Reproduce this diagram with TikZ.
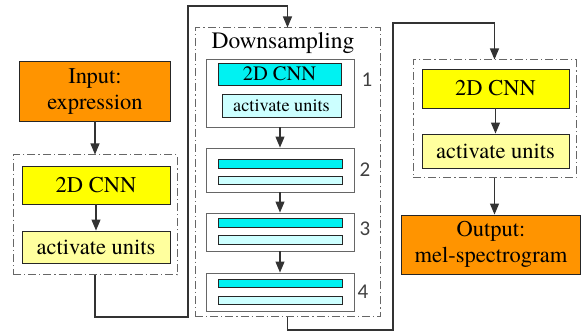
\documentclass[tikz,border=0pt]{standalone}
\usepackage{fontspec}
\setmainfont{TeX Gyre Termes}
\newfontfamily\boxfont{TeX Gyre Termes}
\newfontfamily\numfont{Carlito}
\usetikzlibrary{arrows.meta}
\definecolor{inorange}{HTML}{FF9400}
\definecolor{cnnyellow}{HTML}{FFFF00}
\definecolor{actyellow}{HTML}{FFFF9E}
\definecolor{cnncyan}{HTML}{00F2F2}
\definecolor{actcyan}{HTML}{CCFFFF}
\tikzset{
  base/.style={draw=black!85, line width=0.9pt, inner sep=0pt, font=\boxfont\fontsize{22.5}{26}\selectfont},
  iobox/.style={base, fill=inorange, align=center},
  cnnbox/.style={base, fill=cnnyellow},
  actbox/.style={base, fill=actyellow},
  group/.style={draw=black!60, line width=1pt, dash pattern=on 8pt off 3pt on 1.2pt off 3pt},
  stage/.style={draw=black!60, line width=0.9pt, fill=white, inner sep=0pt},
  bar/.style={draw=black!85, line width=0.8pt, inner sep=0pt},
  lbl/.style={font=\numfont\fontsize{21}{22}\selectfont, text=black!75},
  link/.style={draw=black!80, line width=1.1pt},
  arr/.style={link, -{Triangle[length=11pt,width=9pt]}}
}
\begin{document}
\begin{tikzpicture}[x=1pt, y=-1pt]
\useasboundingbox (0,0) rectangle (582,334);

% input and first convolution block
\node[iobox, minimum width=151pt, minimum height=60pt] (in) at (95,91) {Input:\\expression};
\node[group, minimum width=164pt, minimum height=120pt] (gl) at (95,215) {};
\node[cnnbox, minimum width=148pt, minimum height=38pt] (cl) at (96,185) {2D CNN};
\node[actbox, minimum width=148pt, minimum height=32pt] (al) at (96,247) {activate units};

% downsampling group
\node[group, minimum width=185pt, minimum height=289pt] (gd) at (287.5,172.5) {};
\node[font=\boxfont\fontsize{23.5}{26}\selectfont, inner sep=0pt] (dtitle) at (283,43) {Downsampling};

\node[stage, minimum width=148pt, minimum height=68pt] (s1) at (280,93) {};
\node[bar, fill=cnncyan, minimum width=123pt, minimum height=22pt, font=\boxfont\fontsize{20.5}{22}\selectfont] (s1c) at (279.5,74) {2D CNN};
\node[bar, fill=actcyan, minimum width=119pt, minimum height=23pt, font=\boxfont\fontsize{18.3}{20}\selectfont] (s1a) at (281.5,105.5) {activate units};
\node[lbl] (n1) at (367,80) {1};

\node[stage, minimum width=148pt, minimum height=44pt] (s2) at (280,170) {};
\node[bar, fill=cnncyan, minimum width=124pt, minimum height=9pt] (s2c) at (280,163.5) {};
\node[bar, fill=actcyan, minimum width=124pt, minimum height=8pt] (s2a) at (280,180) {};
\node[lbl] (n2) at (365,170) {2};

\node[stage, minimum width=148pt, minimum height=38pt] (s3) at (280,232) {};
\node[bar, fill=cnncyan, minimum width=124pt, minimum height=9pt] (s3c) at (280,223) {};
\node[bar, fill=actcyan, minimum width=124pt, minimum height=9pt] (s3a) at (280,239.5) {};
\node[lbl] (n3) at (365,229) {3};

\node[stage, minimum width=148pt, minimum height=38pt] (s4) at (280,292) {};
\node[bar, fill=cnncyan, minimum width=124pt, minimum height=8pt] (s4c) at (280,283) {};
\node[bar, fill=actcyan, minimum width=124pt, minimum height=8pt] (s4a) at (280,300) {};
\node[lbl] (n4) at (363,292) {4};

% final convolution block and output
\node[group, minimum width=163pt, minimum height=118pt] (gr) at (494.5,119) {};
\node[cnnbox, minimum width=147pt, minimum height=39pt] (cr) at (495.5,88.5) {2D CNN};
\node[actbox, minimum width=147pt, minimum height=34pt] (ar) at (495.5,151) {activate units};
\node[iobox, minimum width=179pt, minimum height=59pt] (out) at (491,244.5) {Output:\\mel-spectrogram};

% routing points
\coordinate (r1) at (95,317);
\coordinate (r2) at (188,317);
\coordinate (r3) at (188,6);
\coordinate (r4) at (287.5,6);
\coordinate (q1) at (287.5,330);
\coordinate (q2) at (393,330);
\coordinate (q3) at (393,23);
\coordinate (q4) at (494.5,23);

% connectors
\draw[arr] (in.south) -- (gl.north);
\draw[arr] (cl.south) -- (al.north);
\draw[arr] (gl.south) -- (r1) -- (r2) -- (r3) -- (r4) -- (gd.north);
\draw[arr] (s1.south) -- (s2.north);
\draw[arr] (s2.south) -- (s3.north);
\draw[arr] (s3.south) -- (s4.north);
\draw[arr] (gd.south) -- (q1) -- (q2) -- (q3) -- (q4) -- (gr.north);
\draw[arr] (cr.south) -- (ar.north);
\draw[arr] (gr.south) -- (gr.south |- out.north);
\end{tikzpicture}
\end{document}
